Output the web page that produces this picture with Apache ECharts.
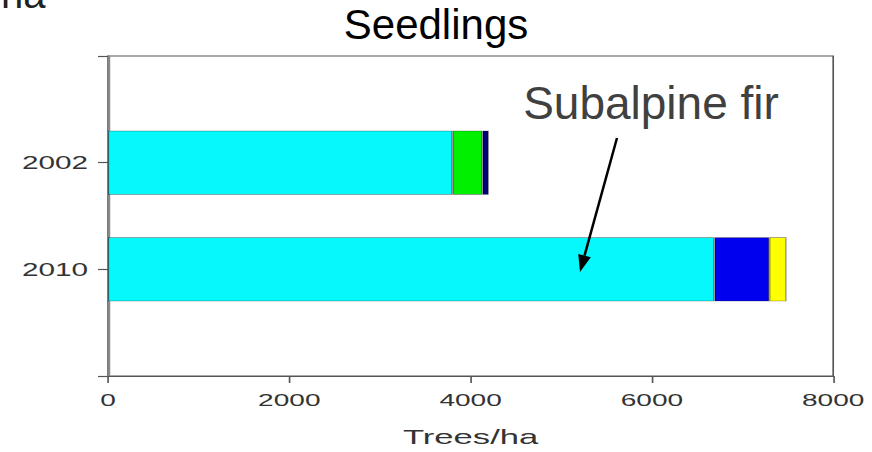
<!DOCTYPE html>
<html><head><meta charset="utf-8">
<script src="https://cdn.jsdelivr.net/npm/echarts@6/dist/echarts.min.js"></script>
<style>
html,body{margin:0;padding:0;background:#fff;overflow:hidden;width:872px;height:452px}
#main{position:absolute;left:0;top:0;height:452px;transform-origin:0 0}
#over{position:absolute;left:0;top:0;width:872px;height:452px}
</style></head><body><div id="main"></div><div id="over"></div>
<script>
// ---- data ----
const years = ['2002', '2010'];
const subalpineFir = [3800, 6690];   // cyan
const greenSpecies = [330, '-'];     // green
const navySpecies = [70, '-'];       // dark blue
const blueSpecies = ['-', 605];      // blue
const yellowSpecies = ['-', 190];    // yellow
const xTicks = [0, 2000, 4000, 6000, 8000];
const chartTitle = 'Seedlings';
const xAxisName = 'Trees/ha';
const annotation = 'Subalpine fir';
const cornerText = 'ha';

// ---- layout (the source image is horizontally stretched) ----
const SX = 1.65;
const W = 872 / SX;
const mainEl = document.getElementById('main');
mainEl.style.width = W + 'px';
mainEl.style.transform = 'scaleX(' + SX + ')';

const yCats = [''].concat(years, ['']);
const pad = a => ['-'].concat(a, ['-']);
const FONT = 'Liberation Sans, Arial, Helvetica, sans-serif';
const border = {borderColor: 'rgba(0,0,0,0.45)', borderWidth: 0.7};

function barSeries(name, data, color) {
  return {
    name: name, type: 'bar', stack: 'total', data: pad(data),
    barWidth: 64, itemStyle: Object.assign({color: color}, border),
    emphasis: {disabled: true}
  };
}

const chart = echarts.init(mainEl, null, {renderer: 'svg'});
chart.setOption({
  animation: false,
  backgroundColor: 'transparent',
  grid: {
    left: 108 / SX, right: W - 834 / SX, top: 56, bottom: 452 - 379,
    show: true, borderColor: '#555', borderWidth: 1, backgroundColor: 'transparent'
  },
  xAxis: {
    type: 'value', min: xTicks[0], max: xTicks[xTicks.length - 1], interval: 2000,
    name: xAxisName, nameLocation: 'middle', nameGap: 50,
    nameTextStyle: {fontFamily: FONT, fontSize: 21, color: '#333'},
    axisLine: {show: true, lineStyle: {color: '#555', width: 1.2}},
    axisTick: {show: true, length: 7, lineStyle: {color: '#555', width: 1}},
    axisLabel: {margin: 16, fontFamily: FONT, fontSize: 17, color: '#333', formatter: v => String(v)},
    splitLine: {show: false}
  },
  yAxis: {
    type: 'category', data: yCats, inverse: true, boundaryGap: false,
    axisLine: {show: true, lineStyle: {color: '#888', width: 1.6}},
    axisTick: {show: true, length: 10 / SX, alignWithLabel: true, lineStyle: {color: '#555', width: 1.2}},
    axisLabel: {margin: 20 / SX, fontFamily: FONT, fontSize: 18, color: '#333'},
    splitLine: {show: false}
  },
  series: [
    barSeries('Subalpine fir', subalpineFir, '#05f8fc'),
    barSeries('Green', greenSpecies, '#00f000'),
    barSeries('Navy', navySpecies, '#00007a'),
    barSeries('Blue', blueSpecies, '#0000ee'),
    barSeries('Yellow', yellowSpecies, '#ffff00')
  ]
});

// ---- overlay annotations (not stretched) ----
const over = echarts.init(document.getElementById('over'), null, {renderer: 'svg'});
const start = [617, 138], tip = [580, 272];
const dx = tip[0] - start[0], dy = tip[1] - start[1];
const len = Math.sqrt(dx * dx + dy * dy);
const ux = dx / len, uy = dy / len, nx = -uy, ny = ux;
const headLen = 17, headHalf = 6.5;
const base = [tip[0] - ux * headLen, tip[1] - uy * headLen];
over.setOption({
  animation: false,
  graphic: [
    {type: 'text', x: 436, y: 3, style: {text: chartTitle, fill: '#000', font: '42px ' + FONT, align: 'center', verticalAlign: 'top'}},
    {type: 'text', x: 651, y: 80, style: {text: annotation, fill: '#404040', font: '46px ' + FONT, align: 'center', verticalAlign: 'top'}},
    {type: 'text', x: 1, y: -26, style: {text: cornerText, fill: '#222', font: '40px ' + FONT, align: 'left', verticalAlign: 'top'}},
    {type: 'line', shape: {x1: start[0], y1: start[1], x2: base[0], y2: base[1]}, style: {stroke: '#000', lineWidth: 2.5}},
    {type: 'polygon', shape: {points: [tip, [base[0] + nx * headHalf, base[1] + ny * headHalf], [base[0] - nx * headHalf, base[1] - ny * headHalf]]}, style: {fill: '#000'}}
  ]
});
</script></body></html>
